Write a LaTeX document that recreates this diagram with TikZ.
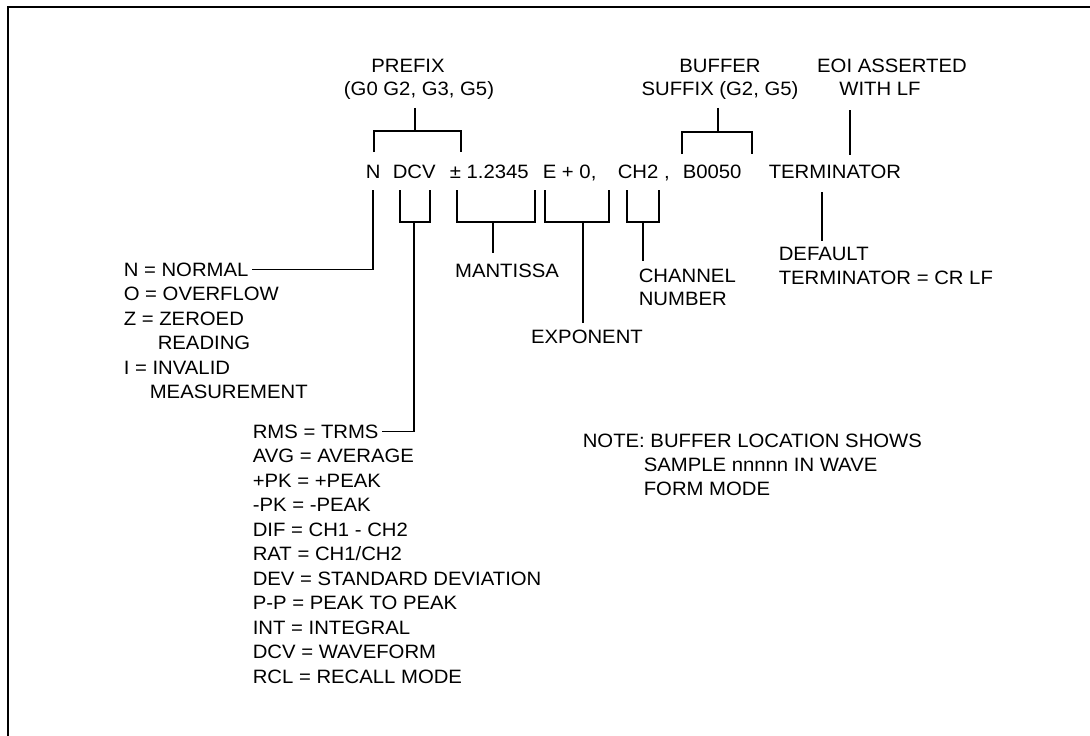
\documentclass[tikz,border=0pt]{standalone}
\usepackage{fontspec}
\setmainfont{Liberation Sans}[FakeStretch=1.05]
\tikzset{
  lbl/.style={anchor=base west, inner sep=0pt},
  clbl/.style={anchor=base, inner sep=0pt},
  brk/.style={line width=1.4pt},
}

\begin{document}
\begin{tikzpicture}[x=0.75pt, y=-0.75pt, line width=1.2pt,
    every node/.style={font=\fontsize{14.5}{17}\selectfont}]
  \useasboundingbox (0,0) rectangle (1090,736);

  % --- frame ---
  \draw[line width=2pt] (8,736) -- (8,7) -- (1090,7);

  % --- labels above ---
  \node[clbl] (prefix) at (408,72) {PREFIX};
  \node[clbl] (prefixg) at (419,95) {(G0 G2, G3, G5)};
  \node[clbl] (buffer) at (720,72) {BUFFER};
  \node[clbl] (suffix) at (720,95) {SUFFIX (G2, G5)};
  \node[clbl] (eoi) at (892,72) {EOI ASSERTED};
  \node[clbl] (withlf) at (880,95) {WITH LF};

  % --- reading ---
  \node[lbl] (n) at (365,178) {N};
  \node[lbl] (dcv) at (392,178) {DCV};
  \node[lbl] (mant) at (449,178) {± 1.2345};
  \node[lbl] (expo) at (542,178) {E + 0,};
  \node[lbl] (chan) at (617,178) {CH2 ,};
  \node[lbl] (buf) at (682,178) {B0050};
  \node[lbl] (term) at (768,178) {TERMINATOR};

  % --- labels below ---
  \node[clbl] (mantissa) at (507,277) {MANTISSA};
  \node[clbl] (exponent) at (587,343) {EXPONENT};
  \node[lbl] (channel) at (638,282) {CHANNEL};
  \node[lbl] (number) at (638,305) {NUMBER};
  \node[lbl] (default) at (778,260) {DEFAULT};
  \node[lbl] (crlf) at (778,284) {TERMINATOR = CR LF};

  % status list
  \node[lbl] (normal) at (123,276) {N = NORMAL};
  \node[lbl] (overflow) at (123,300.5) {O = OVERFLOW};
  \node[lbl] (zeroed) at (123,325) {Z = ZEROED};
  \node[lbl] (reading) at (157,349.5) {READING};
  \node[lbl] (invalid) at (123,374) {I = INVALID};
  \node[lbl] (meas) at (149,398.5) {MEASUREMENT};

  % function list
  \foreach \t [count=\i from 0] in {RMS = TRMS, AVG = AVERAGE, +PK = +PEAK,
      -PK = -PEAK, DIF = CH1 - CH2, RAT = CH1/CH2, DEV = STANDARD DEVIATION,
      P-P = PEAK TO PEAK, INT = INTEGRAL, DCV = WAVEFORM, RCL = RECALL MODE}
    \node[lbl] (fn\i) at (252,438+24.5*\i) {\t};

  % note
  \node[lbl] (note) at (582,447) {NOTE: BUFFER LOCATION SHOWS};
  \node[lbl] (note2) at (643,471) {SAMPLE nnnnn IN WAVE};
  \node[lbl] (note3) at (643,495) {FORM MODE};

  % --- brackets ---
  \coordinate (pfx) at (415,131);
  \coordinate (bfx) at (718,132);
  \coordinate (nfoot) at (373,190);
  \coordinate (dcvfoot) at (414,222);
  \coordinate (mantfoot) at (493,222);
  \coordinate (expfoot) at (583,222);
  \coordinate (chfoot) at (643,222);
  \coordinate (eoifoot) at (850,155);
  \coordinate (termfoot) at (822,192);

  \draw[brk] (374,152) |- (461,131) -- (461,152);
  \draw[brk] (682,154) |- (752,132) -- (752,154);
  \draw[brk] (400,190) |- (430,222) -- (430,190);
  \draw[brk] (457,190) |- (535,222) -- (535,190);
  \draw[brk] (545,190) |- (609,222) -- (609,190);
  \draw[brk] (627,190) |- (659,222) -- (659,190);

  % --- connectors ---
  \draw[shorten <=6pt] (prefixg.south -| pfx) -- (pfx);
  \draw[shorten <=6pt] (suffix.south -| bfx) -- (bfx);
  \draw[shorten <=11pt] (withlf.south -| eoifoot) -- (eoifoot);
  \draw (nfoot) |- ([xshift=2pt]normal.east);
  \draw (dcvfoot) |- ([xshift=2pt]fn0.east);
  \draw[shorten >=7pt] (mantfoot) -- (mantissa.north -| mantfoot);
  \draw[shorten >=4pt] (expfoot) -- (exponent.north -| expfoot);
  \draw[shorten >=5pt] (chfoot) -- (channel.north -| chfoot);
  \draw[shorten >=4pt] (termfoot) -- (default.north -| termfoot);
\end{tikzpicture}
\end{document}
